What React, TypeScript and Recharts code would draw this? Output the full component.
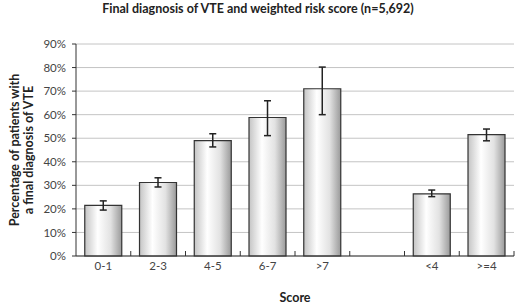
import React from "react";
import {
  BarChart,
  Bar,
  XAxis,
  YAxis,
  CartesianGrid,
  ErrorBar,
} from "recharts";

const categories = ["0-1", "2-3", "4-5", "6-7", ">7", " ", "<4", ">=4"];
const values = [21.5, 31.2, 49, 58.8, 71, null, 26.4, 51.5];
const lows = [19.5, 29.3, 46.3, 51.1, 60, null, 25.2, 48.9];
const highs = [23.4, 33.2, 51.9, 65.9, 80.2, null, 28, 53.9];
const yTicks = [0, 10, 20, 30, 40, 50, 60, 70, 80, 90];

const FONT = "Lato, 'Open Sans', sans-serif";
const W = 520;
const H = 306;
const LEFT = 76;
const RIGHT = 6;
const SLOT = (W - LEFT - RIGHT) / categories.length;

const data = categories.map((c, i) => ({
  name: c,
  pct: values[i],
  err: values[i] == null ? null : [values[i]! - lows[i]!, highs[i]! - values[i]!],
}));

function XTick(props: any) {
  const { x, y, payload } = props;
  return (
    <g>
      <line x1={x + SLOT / 2} x2={x + SLOT / 2} y1={y} y2={y - 5} stroke="#333" strokeWidth={1} />
      <text x={x} y={y + 14} textAnchor="middle" fontSize={11.5} fill="#444" fontFamily={FONT}>
        {payload.value}
      </text>
    </g>
  );
}

function YLabel(props: any) {
  const { viewBox } = props;
  const cy = viewBox.y + viewBox.height / 2;
  return (
    <g fontFamily={FONT} fontWeight={700} fontSize={12.5} fill="#222">
      <text x={14} y={cy} transform={`rotate(-90 14 ${cy})`} textAnchor="middle" dominantBaseline="central">
        Percentage of patients with
      </text>
      <text x={28} y={cy} transform={`rotate(-90 28 ${cy})`} textAnchor="middle" dominantBaseline="central">
        a final diagnosis of VTE
      </text>
    </g>
  );
}

function XLabel(props: any) {
  const { viewBox } = props;
  return (
    <text
      x={viewBox.x + viewBox.width / 2}
      y={297}
      textAnchor="middle"
      dominantBaseline="central"
      fontFamily={FONT}
      fontWeight={700}
      fontSize={12.5}
      fill="#222"
    >
      Score
    </text>
  );
}

export default function App() {
  return (
    <div style={{ position: "absolute", left: 0, top: 0, width: W, height: H, background: "#fff" }}>
      <div
        style={{
          position: "absolute",
          left: 0,
          top: 1,
          width: W - 4,
          textAlign: "center",
          fontFamily: FONT,
          fontWeight: 700,
          fontSize: 12.5,
          color: "#222",
        }}
      >
        Final diagnosis of VTE and weighted risk score (n=5,692)
      </div>
      <BarChart
        width={W}
        height={H}
        data={data}
        margin={{ top: 44, right: RIGHT, bottom: 0, left: 0 }}
        barCategoryGap="16%"
      >
        <defs>
          <linearGradient id="gBar" x1="0" y1="0" x2="1" y2="0">
            <stop offset="0%" stopColor="#c4c4c4" />
            <stop offset="35%" stopColor="#ffffff" />
            <stop offset="70%" stopColor="#e2e2e2" />
            <stop offset="100%" stopColor="#9a9a9a" />
          </linearGradient>
        </defs>
        <CartesianGrid vertical={false} stroke="#c4c4c4" />
        <XAxis
          dataKey="name"
          height={50}
          tickLine={false}
          tickSize={0}
          tickMargin={0}
          axisLine={{ stroke: "#333" }}
          tick={<XTick />}
          interval={0}
          label={<XLabel />}
        />
        <YAxis
          width={LEFT}
          domain={[0, 90]}
          ticks={yTicks}
          tickFormatter={(v) => `${v}%`}
          tickSize={4}
          tickMargin={6}
          tick={{ fontSize: 11.5, fill: "#444", fontFamily: FONT }}
          axisLine={{ stroke: "#333" }}
          tickLine={{ stroke: "#333" }}
          label={<YLabel />}
        />
        <Bar dataKey="pct" fill="url(#gBar)" stroke="#333" strokeWidth={1.2} isAnimationActive={false}>
          <ErrorBar dataKey="err" width={3.5} stroke="#222" strokeWidth={1.5} direction="y" />
        </Bar>
      </BarChart>
    </div>
  );
}
